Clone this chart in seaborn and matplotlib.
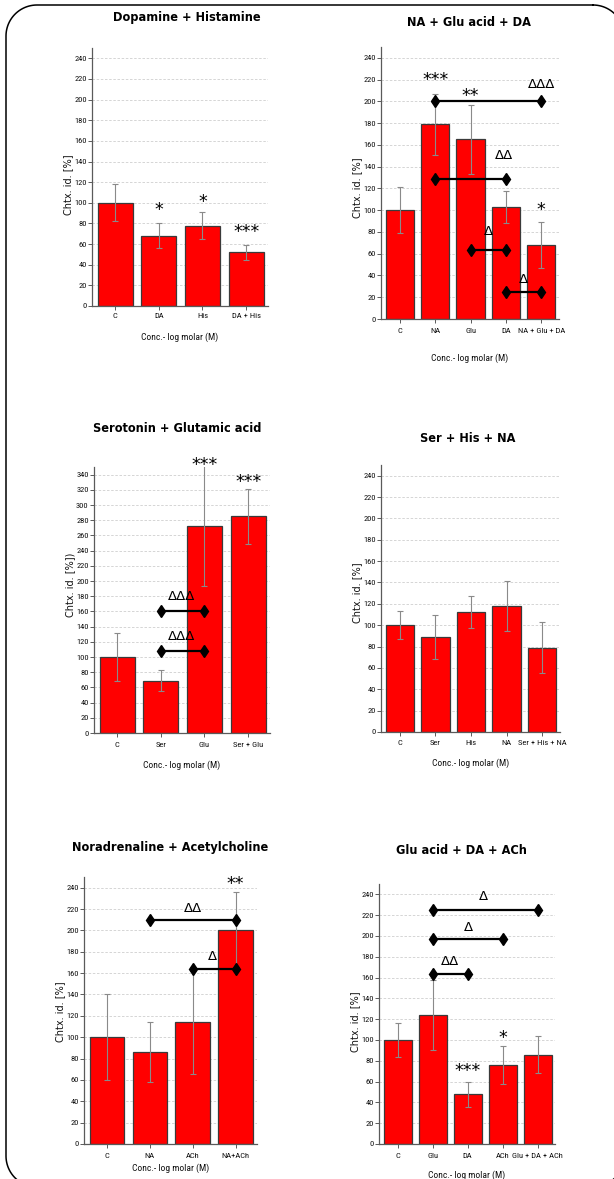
import matplotlib
matplotlib.use("Agg")
import numpy as np
import matplotlib.pyplot as plt
from matplotlib import font_manager
from matplotlib.lines import Line2D
import seaborn as sns

W, H = 614, 1179

# ---------------- data ----------------
dh_cats = ["C", "DA", "His", "DA + His"]
dh_mean = [100, 68, 78, 52]
dh_err = [18, 12, 13, 7]

ngd_cats = ["C", "NA", "Glu", "DA", "NA + Glu + DA"]
ngd_mean = [100, 179, 165, 103, 68]
ngd_err = [21, 28, 32, 15, 21]

sg_cats = ["C", "Ser", "Glu", "Ser + Glu"]
sg_mean = [100, 69, 273, 285]
sg_err = [31, 14, 79, 36]

shn_cats = ["C", "Ser", "His", "NA", "Ser + His + NA"]
shn_mean = [100, 89, 112, 118, 79]
shn_err = [13, 21, 15, 23, 24]

nach_cats = ["C", "NA", "ACh", "NA+ACh"]
nach_mean = [100, 86, 114, 200]
nach_err = [40, 28, 48, 36]

gda_cats = ["C", "Glu", "DA", "ACh", "Glu + DA + ACh"]
gda_mean = [100, 124, 48, 76, 86]
gda_err = [16, 34, 12, 18, 18]

# significance marks: (bar index, text, y)
dh_stars = [(1, "*", 98), (2, "*", 106), (3, "***", 77)]
ngd_stars = [(1, "***", 224), (2, "**", 210), (4, "*", 105)]
sg_stars = [(2, "***", 359), (3, "***", 337)]
nach_stars = [(3, "**", 248)]
gda_stars = [(2, "***", 75), (3, "*", 107)]

# comparison brackets: (from, to, bracket y, text, text x, text y)
ngd_pairs = [(1, 4, 200, "ΔΔΔ", 4.0, 217),
             (1, 3, 129, "ΔΔ", 2.95, 151),
             (2, 3, 63, "Δ", 2.5, 82),
             (3, 4, 25, "Δ", 3.5, 37)]
sg_pairs = [(1, 2, 161, "ΔΔΔ", 1.47, 181),
            (1, 2, 108, "ΔΔΔ", 1.47, 129)]
nach_pairs = [(1, 3, 210, "ΔΔ", 2.0, 222),
              (2, 3, 164, "Δ", 2.46, 177)]
gda_pairs = [(1, 4, 225, "Δ", 2.46, 239),
             (1, 3, 197, "Δ", 2.04, 209),
             (1, 2, 163, "ΔΔ", 1.49, 177)]


def pick_narrow():
    """Return (family, stretch) of the narrowest installed sans face."""
    cands = [("Liberation Sans Narrow", "normal"),
             ("Noto Sans ExtraCondensed", "normal"),
             ("Noto Sans", "extra-condensed"),
             ("Noto Sans Condensed", "normal"),
             ("Noto Sans", "condensed"),
             ("Open Sans Condensed", "normal"),
             ("Open Sans", "condensed"),
             ("Roboto Condensed", "normal")]
    for fam, st in cands:
        try:
            path = font_manager.findfont(
                font_manager.FontProperties(family=fam, stretch=st),
                fallback_to_default=False)
        except Exception:
            continue
        low = path.lower()
        if "narrow" in low or "condensed" in low:
            return fam, st, True
    return "DejaVu Sans", "condensed", False


NARROW, NSTRETCH, IS_NARROW = pick_narrow()
TICK_FS = 6.1 if IS_NARROW else 5.5
XLAB_FS = 6.8 if IS_NARROW else 5.8

sns.set_theme(style="white")
plt.rcParams["font.family"] = ["DejaVu Sans"]

fig = plt.figure(figsize=(W / 100, H / 100), dpi=100)

RED = "#ff0000"
EDGE = "#3a3a3a"
SPINE = "#5a5a5a"

panels = [
    dict(title="Dopamine + Histamine", cats=dh_cats, mean=dh_mean, err=dh_err,
         stars=dh_stars, pairs=[], box=(92, 268, 48, 306), ymax=250, tmax=240,
         title_xy=(187, 18), ylab="Chtx. id. [%]", ylab_y=185,
         tick_y=318, xlab_y=337),
    dict(title="NA + Glu acid + DA", cats=ngd_cats, mean=ngd_mean, err=ngd_err,
         stars=ngd_stars, pairs=ngd_pairs, box=(381, 559, 47, 319), ymax=250, tmax=240,
         title_xy=(469, 22), ylab="Chtx. id. [%]", ylab_y=188,
         tick_y=333, xlab_y=358),
    dict(title="Serotonin + Glutamic acid", cats=sg_cats, mean=sg_mean, err=sg_err,
         stars=sg_stars, pairs=sg_pairs, box=(94, 270, 467, 733), ymax=350, tmax=340,
         title_xy=(177, 429), ylab="Chtx. id. [%])", ylab_y=585,
         tick_y=747, xlab_y=765),
    dict(title="Ser + His + NA", cats=shn_cats, mean=shn_mean, err=shn_err,
         stars=[], pairs=[], box=(381, 560, 465, 732), ymax=250, tmax=240,
         title_xy=(468, 439), ylab="Chtx. id. [%]", ylab_y=593,
         tick_y=745, xlab_y=763),
    dict(title="Noradrenaline + Acetylcholine", cats=nach_cats, mean=nach_mean, err=nach_err,
         stars=nach_stars, pairs=nach_pairs, box=(84, 257, 877, 1144), ymax=250, tmax=240,
         title_xy=(170, 848), ylab="Chtx. id. [%]", ylab_y=1012,
         tick_y=1158, xlab_y=1168),
    dict(title="Glu acid + DA + ACh", cats=gda_cats, mean=gda_mean, err=gda_err,
         stars=gda_stars, pairs=gda_pairs, box=(379, 555, 884, 1144), ymax=250, tmax=240,
         title_xy=(461, 851), ylab="Chtx. id. [%]", ylab_y=1022,
         tick_y=1158, xlab_y=1175),
]


def mark(ax, x, y, s, star):
    # place the glyph centre at (x, y)
    if star:
        fs, off = 12.5, -0.58 * 12.5
    else:
        fs, off = 9.5, -0.36 * 9.5
    ax.annotate(s, (x, y), xytext=(0, off), textcoords="offset points",
                ha="center", va="baseline", fontsize=fs, color="black",
                annotation_clip=False, zorder=6)


for p in panels:
    l, r, t, b = p["box"]
    ax = fig.add_axes([l / W, (H - b) / H, (r - l) / W, (b - t) / H])
    n = len(p["cats"])
    sns.barplot(x=p["cats"], y=p["mean"], order=p["cats"], color=RED, saturation=1,
                edgecolor=EDGE, linewidth=0.9, width=0.8, errorbar=None, ax=ax, zorder=2)
    ax.errorbar(range(n), p["mean"], yerr=p["err"], fmt="none", ecolor="#8a8a8a",
                elinewidth=0.8, capsize=2, capthick=0.8, zorder=3)
    ax.set_xlim(-0.53, n - 0.5)
    ax.set_ylim(0, p["ymax"])
    ax.set_yticks(range(0, p["tmax"] + 1, 20))
    ax.yaxis.grid(True, linestyle=(0, (3, 2)), color="#cfcfcf", linewidth=0.6)
    ax.xaxis.grid(False)
    ax.set_axisbelow(True)
    for side in ("top", "right"):
        ax.spines[side].set_visible(False)
    for side in ("left", "bottom"):
        ax.spines[side].set_color(SPINE)
        ax.spines[side].set_linewidth(0.9)
    ax.tick_params(axis="y", direction="out", length=3, width=0.7, color=SPINE,
                   pad=0.8, labelsize=TICK_FS, left=True)
    fs_px = TICK_FS * 100 / 72
    pad_pt = max((p["tick_y"] - b - 4 - fs_px * 0.55) * 72 / 100, 0.5)
    ax.tick_params(axis="x", direction="out", length=4 * 72 / 100, width=0.7, color=SPINE,
                   pad=pad_pt, labelsize=TICK_FS, bottom=True)
    for lab in ax.get_xticklabels() + ax.get_yticklabels():
        lab.set_family(NARROW)
        lab.set_fontstretch(NSTRETCH)
        lab.set_color("#111111")
    ax.set_xlabel("")
    ax.set_ylabel("")

    for (i, s, y) in p["stars"]:
        mark(ax, i, y, s, True)
    for (a, c, y, s, tx, ty) in p["pairs"]:
        ax.plot([a, c], [y, y], color="black", linewidth=1.6, marker="d",
                markersize=6, clip_on=False, zorder=5)
        mark(ax, tx, ty, s, False)

    tx, ty = p["title_xy"]
    fig.text(tx / W, 1 - ty / H, p["title"], ha="center", va="center",
             fontsize=9.1, fontweight="bold", family="DejaVu Sans",
             fontstretch="condensed", color="black")
    ylx = l - 24
    fig.text(ylx / W, 1 - p["ylab_y"] / H, p["ylab"], rotation=90, ha="center",
             va="center", fontsize=7.0, color="#111111")
    fig.text(((l + r) / 2) / W, 1 - p["xlab_y"] / H, "Conc.- log molar (M)",
             ha="center", va="center", fontsize=XLAB_FS, family=NARROW,
             fontstretch=NSTRETCH, color="#111111")


# rounded frame around the figure, built in pixel units
def rounded_outline(x0, y0, x1, y1, rad, steps=24):
    pts = []
    corners = [((x1 - rad, y0 + rad), -90, 0),
               ((x1 - rad, y1 - rad), 0, 90),
               ((x0 + rad, y1 - rad), 90, 180),
               ((x0 + rad, y0 + rad), 180, 270)]
    for (cx, cy), a0, a1 in corners:
        ang = np.radians(np.linspace(a0, a1, steps))
        pts += list(zip(cx + rad * np.cos(ang), cy + rad * np.sin(ang)))
    pts.append(pts[0])
    xs = np.array([q[0] for q in pts]) / W
    ys = 1 - np.array([q[1] for q in pts]) / H
    return xs, ys


fx, fy = rounded_outline(6, 5, 624, 1187, 31)
fig.add_artist(Line2D(fx, fy, transform=fig.transFigure, color="black",
                      linewidth=1.1, solid_joinstyle="round"))

fig.savefig("out.png", dpi=100)
